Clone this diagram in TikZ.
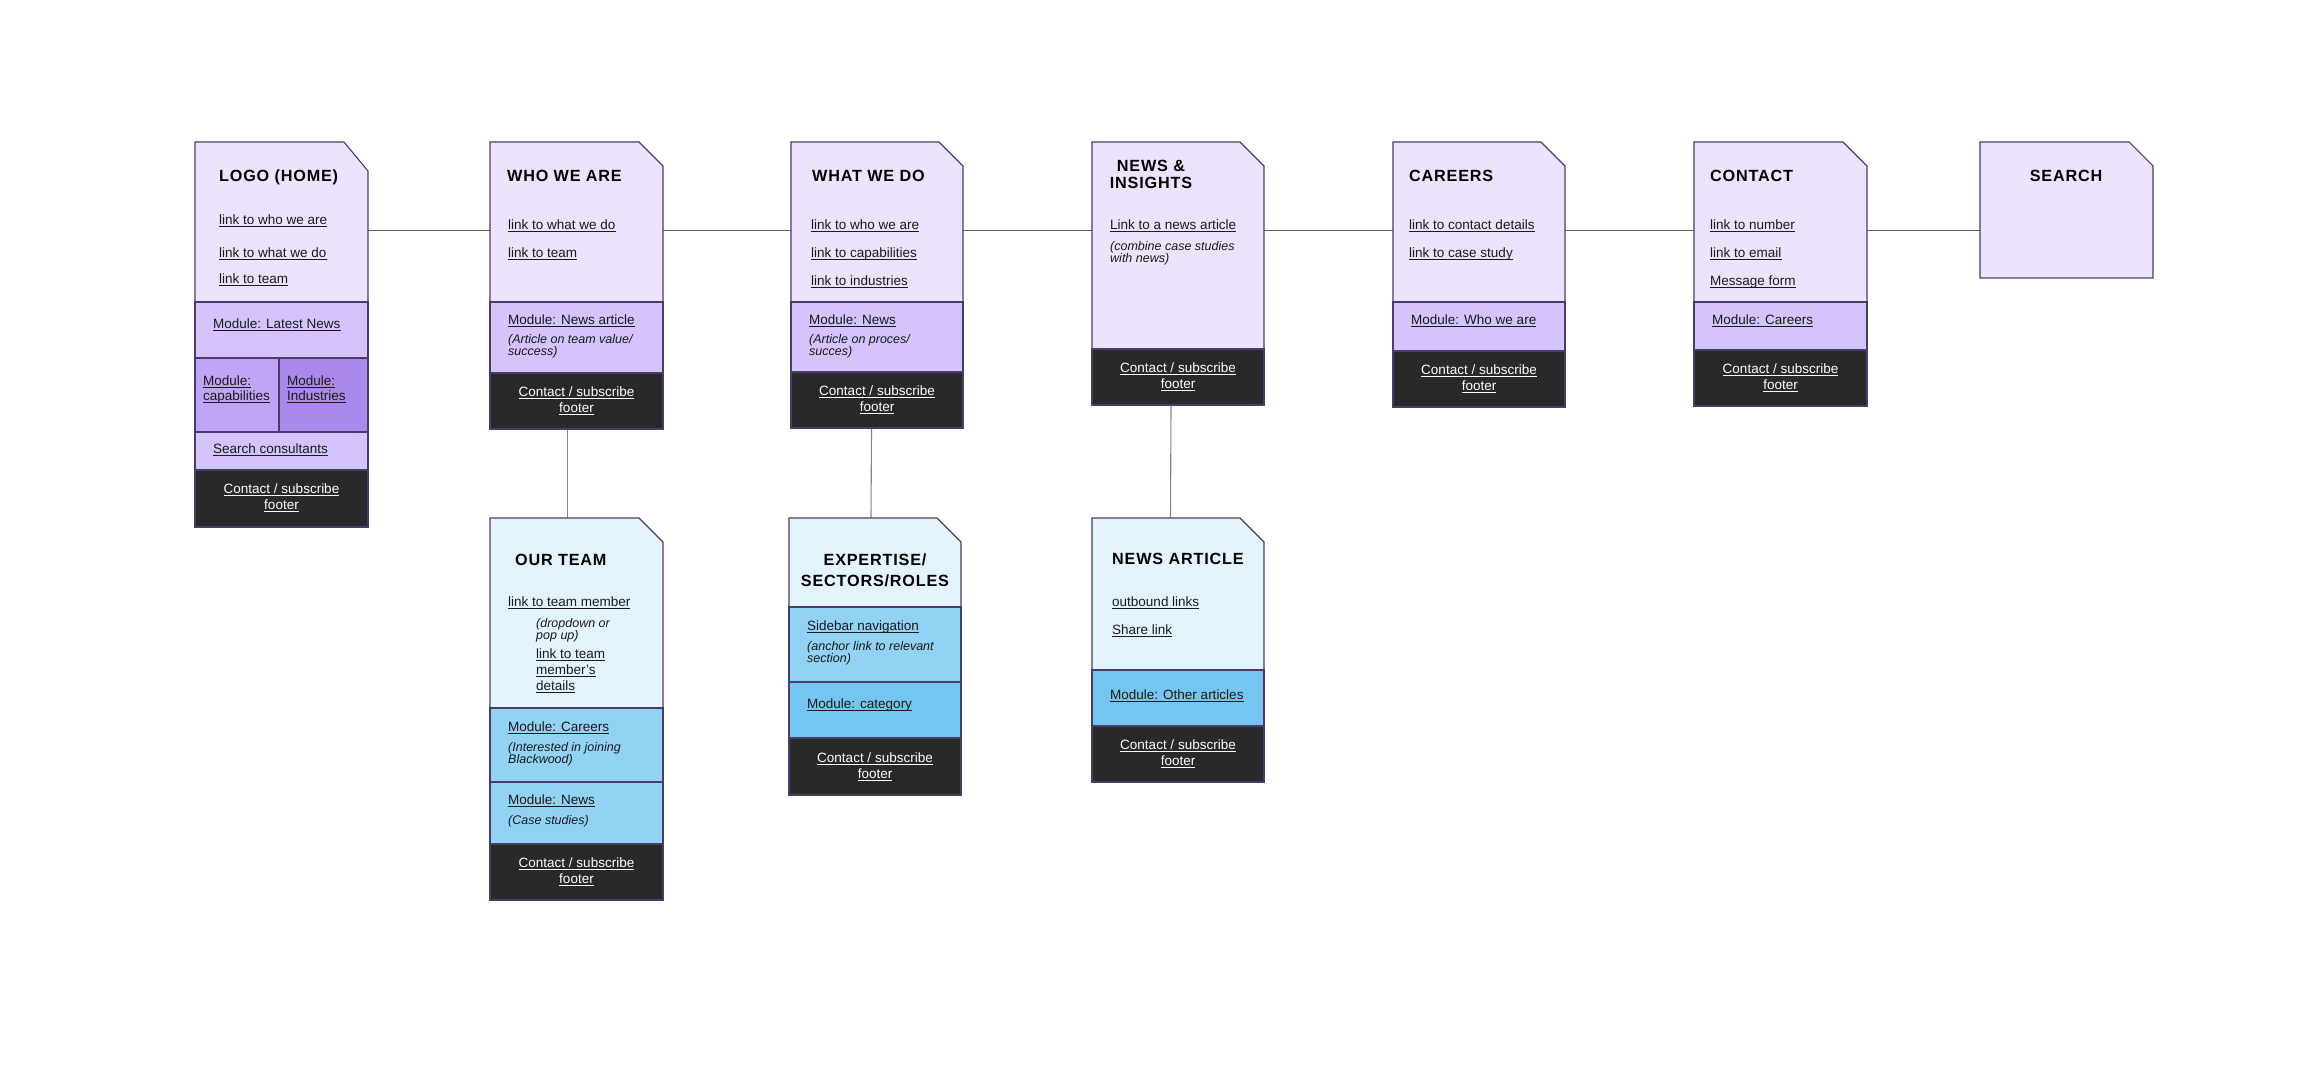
\documentclass[tikz,border=0pt]{standalone}
\usepackage{fontspec}
\setmainfont{Liberation Sans}
\newfontfamily\ttlfamily[LetterSpace=5,BoldFont={Liberation Sans Bold}]{Liberation Sans}
\newsavebox\ulbox
\newcommand\ulx[1]{\sbox\ulbox{#1}\rlap{\usebox\ulbox}\raisebox{-2.6pt}{\rule{\wd\ulbox}{0.8pt}}}
\usetikzlibrary{fit,calc}
\definecolor{bordc}{HTML}{4A3C6A}
\definecolor{hdrP}{HTML}{EDE3FC}
\definecolor{modP}{HTML}{D5C3FC}
\definecolor{capP}{HTML}{BFA5F5}
\definecolor{indP}{HTML}{A98AEB}
\definecolor{hdrB}{HTML}{E3F4FD}
\definecolor{modB}{HTML}{92D3F5}
\definecolor{modBB}{HTML}{74C6F1}
\definecolor{footc}{HTML}{292929}
\definecolor{txtc}{HTML}{1A1A1A}
\definecolor{hlinec}{HTML}{5F5F5F}
\definecolor{vlinec}{HTML}{858585}
\tikzset{
  boxline/.style={draw=bordc, line width=1.1pt},
  area/.style={inner sep=0pt, draw=none},
  txt/.style={anchor=base west, inner sep=0pt, text=txtc, font=\fontsize{13.5}{16}\selectfont},
  itx/.style={anchor=base west, inner sep=0pt, text=txtc, font=\fontsize{12.5}{14}\selectfont\itshape},
  ttl/.style={anchor=base west, inner sep=0pt, text=black, font=\ttlfamily\bfseries\fontsize{16.2}{19}\selectfont},
  ttlc/.style={ttl, anchor=base},
  ftx/.style={anchor=base, inner sep=0pt, text=white, font=\fontsize{13.5}{16}\selectfont},
  hline/.style={draw=hlinec, line width=0.9pt},
  vline/.style={draw=vlinec, line width=1.1pt}
}
% header with cut corner: L T R B cut colour
\newcommand\pghead[6]{\filldraw[boxline, fill=#6] (#1,#2) -- ({#3-24},#2) -- (#3,{#2+#5}) -- (#3,#4) -- (#1,#4) -- cycle;}
% section rectangle: L T R B colour
\newcommand\pgsec[5]{\filldraw[boxline, fill=#5] (#1,#2) rectangle (#3,#4);}
\begin{document}
\begin{tikzpicture}[x=1pt,y=-1pt]
\fill[white] (0,0) rectangle (2315,1070);
\useasboundingbox (0,0) rectangle (2315,1070);

% ---------- box areas (named) ----------
\node[area, fit={(195,142) (368,527)}] (logo) {};
\node[area, fit={(490,142) (663,429)}] (who) {};
\node[area, fit={(791,142) (963,428)}] (what) {};
\node[area, fit={(1092,142) (1264,405)}] (news) {};
\node[area, fit={(1393,142) (1565,407)}] (car) {};
\node[area, fit={(1694,142) (1867,406)}] (con) {};
\node[area, fit={(1980,142) (2153,278)}] (srch) {};
\node[area, fit={(490,518) (663,900)}] (team) {};
\node[area, fit={(789,518) (961,795)}] (expt) {};
\node[area, fit={(1092,518) (1264,782)}] (art) {};

% ---------- connectors ----------
\coordinate (hl) at (0,230);
\draw[hline] (logo.east |- hl) -- (who.west |- hl);
\draw[hline] (who.east |- hl) -- (what.west |- hl);
\draw[hline] (what.east |- hl) -- (news.west |- hl);
\draw[hline] (news.east |- hl) -- (car.west |- hl);
\draw[hline] (car.east |- hl) -- (con.west |- hl);
\draw[hline] (con.east |- hl) -- (srch.west |- hl);
\draw[vline] ([xshift=-9pt]who.south) -- ([xshift=-9pt]team.north);
\draw[vline] ([xshift=-5.5pt]what.south) -- ([xshift=-4pt]expt.north);
\draw[vline] ([xshift=-7pt]news.south) -- ([xshift=-7.5pt]art.north);

% ---------- LOGO (HOME) ----------
\pghead{195}{142}{368}{302}{29}{hdrP}
\pgsec{195}{302}{368}{358}{modP}
\pgsec{195}{358}{279}{432}{capP}
\pgsec{279}{358}{368}{432}{indP}
\pgsec{195}{432}{368}{470}{modP}
\pgsec{195}{470}{368}{527}{footc}
\node[ttl] (logoT) at (219,181) {LOGO (HOME)};
\node[txt] (logo1) at (219,224.5) {\ulx{link to who we are}};
\node[txt] (logo2) at (219,257) {\ulx{link to what we do}};
\node[txt] (logo3) at (219,283) {\ulx{link to team}};
\node[txt] (logo4) at (213,328) {\ulx{Module: Latest News}};
\node[txt] (logo5) at (203,385) {\ulx{Module:}};
\node[txt] (logo6) at (203,400) {\ulx{capabilities}};
\node[txt] (logo7) at (287,385) {\ulx{Module:}};
\node[txt] (logo8) at (287,400) {\ulx{Industries}};
\node[txt] (logo9) at (213,453) {\ulx{Search consultants}};
\node[ftx] (logoF1) at (281.5,493) {\ulx{Contact / subscribe}};
\node[ftx] (logoF2) at (281.5,509) {\ulx{footer}};

% ---------- WHO WE ARE ----------
\pghead{490}{142}{663}{302}{24}{hdrP}
\pgsec{490}{302}{663}{373}{modP}
\pgsec{490}{373}{663}{429}{footc}
\node[ttl] (whoT) at (507,181) {WHO WE ARE};
\node[txt] (who1) at (508,229) {\ulx{link to what we do}};
\node[txt] (who2) at (508,257) {\ulx{link to team}};
\node[txt] (who3) at (508,324) {\ulx{Module: News article}};
\node[itx] (who4) at (508,343) {(Article on team value/};
\node[itx] (who5) at (508,355) {success)};
\node[ftx] (whoF1) at (576.5,396) {\ulx{Contact / subscribe}};
\node[ftx] (whoF2) at (576.5,412) {\ulx{footer}};

% ---------- WHAT WE DO ----------
\pghead{791}{142}{963}{302}{24}{hdrP}
\pgsec{791}{302}{963}{372}{modP}
\pgsec{791}{372}{963}{428}{footc}
\node[ttl] (whatT) at (812,181) {WHAT WE DO};
\node[txt] (what1) at (811,229) {\ulx{link to who we are}};
\node[txt] (what2) at (811,257) {\ulx{link to capabilities}};
\node[txt] (what3) at (811,285) {\ulx{link to industries}};
\node[txt] (what4) at (809,324) {\ulx{Module: News}};
\node[itx] (what5) at (809,343) {(Article on proces/};
\node[itx] (what6) at (809,355) {succes)};
\node[ftx] (whatF1) at (877,395) {\ulx{Contact / subscribe}};
\node[ftx] (whatF2) at (877,411) {\ulx{footer}};

% ---------- NEWS & INSIGHTS ----------
\pghead{1092}{142}{1264}{349}{24}{hdrP}
\pgsec{1092}{349}{1264}{405}{footc}
\node[ttlc] (newsT1) at (1151,171.7) {NEWS \&};
\node[ttlc] (newsT2) at (1151,188.3) {INSIGHTS};
\node[txt] (news1) at (1110,229) {\ulx{Link to a news article}};
\node[itx] (news2) at (1110,250) {(combine case studies};
\node[itx] (news3) at (1110,262) {with news)};
\node[ftx] (newsF1) at (1178,372) {\ulx{Contact / subscribe}};
\node[ftx] (newsF2) at (1178,388) {\ulx{footer}};

% ---------- CAREERS ----------
\pghead{1393}{142}{1565}{302}{24}{hdrP}
\pgsec{1393}{302}{1565}{351}{modP}
\pgsec{1393}{351}{1565}{407}{footc}
\node[ttl] (carT) at (1409,181) {CAREERS};
\node[txt] (car1) at (1409,229) {\ulx{link to contact details}};
\node[txt] (car2) at (1409,257) {\ulx{link to case study}};
\node[txt] (car3) at (1411,324) {\ulx{Module: Who we are}};
\node[ftx] (carF1) at (1479,374) {\ulx{Contact / subscribe}};
\node[ftx] (carF2) at (1479,390) {\ulx{footer}};

% ---------- CONTACT ----------
\pghead{1694}{142}{1867}{302}{24}{hdrP}
\pgsec{1694}{302}{1867}{350}{modP}
\pgsec{1694}{350}{1867}{406}{footc}
\node[ttl] (conT) at (1710,181) {CONTACT};
\node[txt] (con1) at (1710,229) {\ulx{link to number}};
\node[txt] (con2) at (1710,257) {\ulx{link to email}};
\node[txt] (con3) at (1710,285) {\ulx{Message form}};
\node[txt] (con4) at (1712,324) {\ulx{Module: Careers}};
\node[ftx] (conF1) at (1780.5,373) {\ulx{Contact / subscribe}};
\node[ftx] (conF2) at (1780.5,389) {\ulx{footer}};

% ---------- SEARCH ----------
\pghead{1980}{142}{2153}{278}{24}{hdrP}
\node[ttlc] (srchT) at (2066,181) {SEARCH};

% ---------- OUR TEAM ----------
\pghead{490}{518}{663}{708}{24}{hdrB}
\pgsec{490}{708}{663}{782}{modB}
\pgsec{490}{782}{663}{844}{modB}
\pgsec{490}{844}{663}{900}{footc}
\node[ttl] (teamT) at (515,565) {OUR TEAM};
\node[txt] (team1) at (508,606) {\ulx{link to team member}};
\node[itx] (team2) at (536,627) {(dropdown or};
\node[itx] (team3) at (536,639) {pop up)};
\node[txt] (team4) at (536,658) {\ulx{link to team}};
\node[txt] (team5) at (536,674) {\ulx{member’s}};
\node[txt] (team6) at (536,690) {\ulx{details}};
\node[txt] (team7) at (508,731) {\ulx{Module: Careers}};
\node[itx] (team8) at (508,751) {(Interested in joining};
\node[itx] (team9) at (508,763) {Blackwood)};
\node[txt] (team10) at (508,804) {\ulx{Module: News}};
\node[itx] (team11) at (508,824) {(Case studies)};
\node[ftx] (teamF1) at (576.5,867) {\ulx{Contact / subscribe}};
\node[ftx] (teamF2) at (576.5,883) {\ulx{footer}};

% ---------- EXPERTISE ----------
\pghead{789}{518}{961}{607}{24}{hdrB}
\pgsec{789}{607}{961}{682}{modB}
\pgsec{789}{682}{961}{738}{modBB}
\pgsec{789}{738}{961}{795}{footc}
\node[ttlc] (exptT1) at (875,565) {EXPERTISE/};
\node[ttlc] (exptT2) at (875,586) {SECTORS/ROLES};
\node[txt] (expt1) at (807,630) {\ulx{Sidebar navigation}};
\node[itx] (expt2) at (807,650) {(anchor link to relevant};
\node[itx] (expt3) at (807,662) {section)};
\node[txt] (expt4) at (807,708) {\ulx{Module: category}};
\node[ftx] (exptF1) at (875,762) {\ulx{Contact / subscribe}};
\node[ftx] (exptF2) at (875,778) {\ulx{footer}};

% ---------- NEWS ARTICLE ----------
\pghead{1092}{518}{1264}{670}{24}{hdrB}
\pgsec{1092}{670}{1264}{726}{modBB}
\pgsec{1092}{726}{1264}{782}{footc}
\node[ttl] (artT) at (1112,564.5) {NEWS ARTICLE};
\node[txt] (art1) at (1112,606) {\ulx{outbound links}};
\node[txt] (art2) at (1112,634) {\ulx{Share link}};
\node[txt] (art3) at (1110,699) {\ulx{Module: Other articles}};
\node[ftx] (artF1) at (1178,749) {\ulx{Contact / subscribe}};
\node[ftx] (artF2) at (1178,765) {\ulx{footer}};
\end{tikzpicture}
\end{document}
